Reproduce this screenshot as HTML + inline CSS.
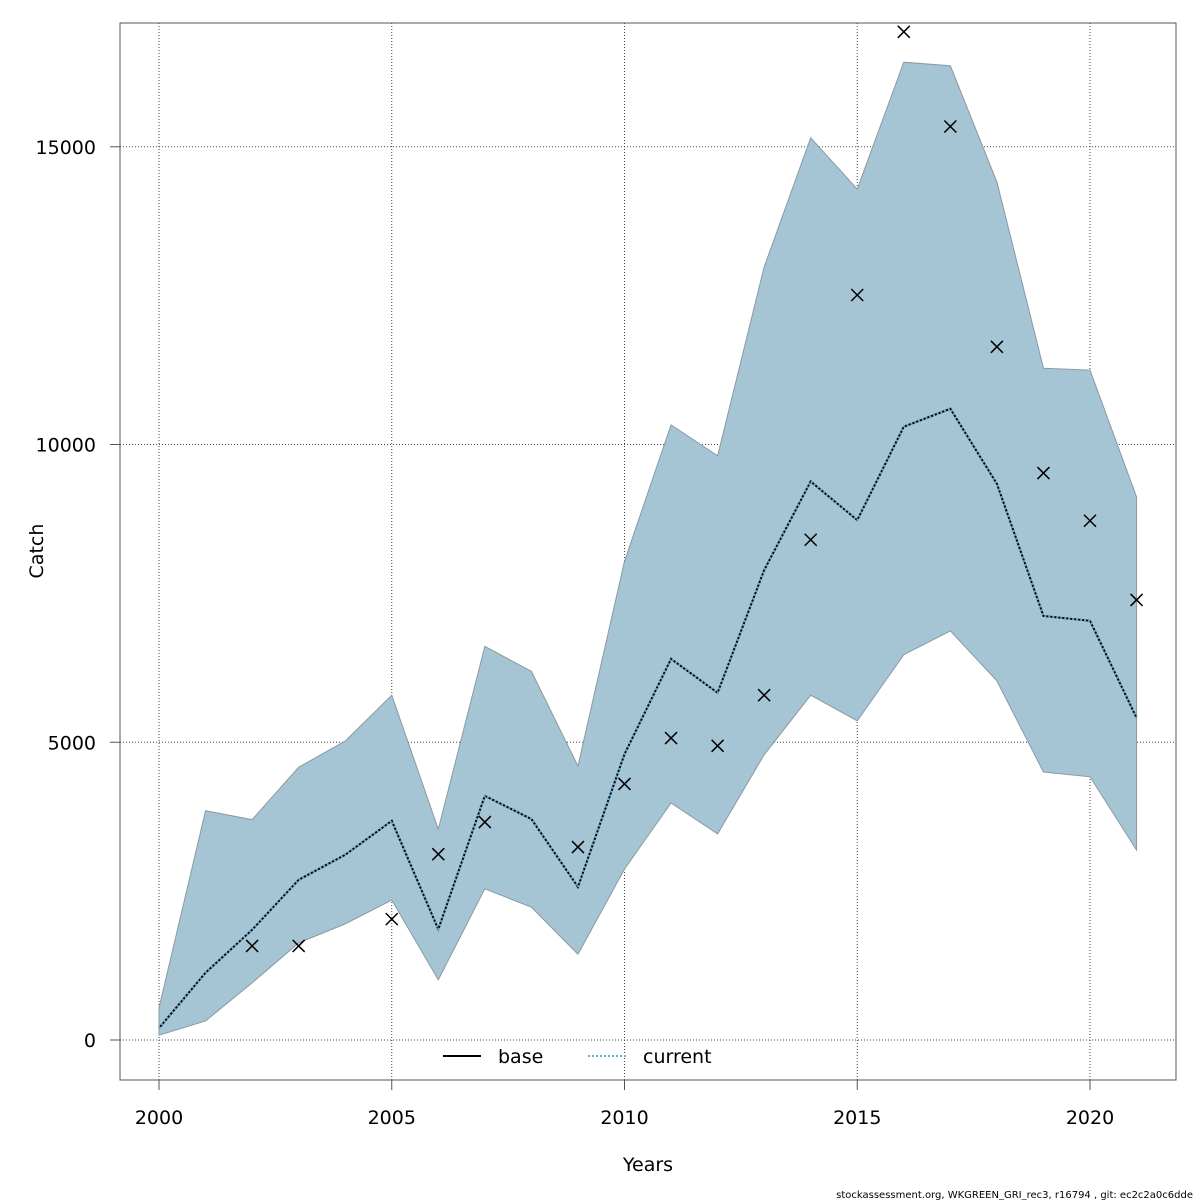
<!DOCTYPE html>
<html><head><meta charset="utf-8"><style>
html,body{margin:0;padding:0;background:#fff;}
svg{display:block;font-family:"DejaVu Sans","Liberation Sans",sans-serif;}
</style></head><body>
<svg id="chart" width="1200" height="1200" viewBox="0 0 1200 1200" xmlns="http://www.w3.org/2000/svg">
<rect width="1200" height="1200" fill="#fff"/>
<g id="grid"></g>
<g id="series"></g>
<rect x="120" y="23" width="1056" height="1057" fill="none" stroke="#555" stroke-width="1"/>
<g id="axes"></g>
<text x="43" y="551" font-size="19" text-anchor="middle" transform="rotate(-90 43 551)">Catch</text>
<text x="648" y="1171" font-size="19" text-anchor="middle">Years</text>
<text x="1193" y="1198" font-size="10" text-anchor="end">stockassessment.org, WKGREEN_GRI_rec3, r16794 , git: ec2c2a0c6dde</text>
<g>
<line x1="443" y1="1056" x2="481" y2="1056" stroke="#000" stroke-width="2"/>
<text x="498" y="1063" font-size="19">base</text>
<line x1="588" y1="1056" x2="626" y2="1056" stroke="#6aaed6" stroke-width="2" stroke-dasharray="2,2"/>
<text x="643" y="1063" font-size="19">current</text>
</g>
</svg>
<script>
const years = [2000,2001,2002,2003,2004,2005,2006,2007,2008,2009,2010,2011,2012,2013,2014,2015,2016,2017,2018,2019,2020,2021];
const upper = [540,3850,3700,4580,5020,5790,3540,6610,6190,4600,8040,10330,9810,12980,15150,14290,16420,16360,14410,11280,11250,9120];
const lower = [80,320,960,1630,1950,2350,1010,2540,2230,1440,2870,3980,3460,4790,5790,5360,6470,6870,6030,4500,4420,3190];
const estimate = [200,1130,1850,2690,3110,3680,1860,4100,3710,2570,4800,6400,5830,7890,9380,8730,10300,10600,9340,7120,7040,5410];
const obsYears = [2002,2003,2005,2006,2007,2009,2010,2011,2012,2013,2014,2015,2016,2017,2018,2019,2020,2021];
const obsValues = [1580,1580,2030,3120,3660,3240,4300,5070,4940,5790,8400,12510,16930,15340,11640,9520,8720,7390];
const xTicks = [2000,2005,2010,2015,2020];
const yTicks = [0,5000,10000,15000];

const NS="http://www.w3.org/2000/svg";
function X(y){return 159+(y-2000)*46.55;}
function Y(v){return 1040-v*0.05955;}
function mk(tag,attrs,parent){const e=document.createElementNS(NS,tag);for(const k in attrs)e.setAttribute(k,attrs[k]);parent.appendChild(e);return e;}
const grid=document.getElementById('grid'),series=document.getElementById('series'),axes=document.getElementById('axes');

xTicks.forEach(t=>{
  const l=mk('line',{x1:X(t),x2:X(t),y1:23,y2:1080,stroke:'#444','stroke-width':1,'stroke-dasharray':'1,2'},grid);
  
  
  const tk=mk('line',{x1:X(t),x2:X(t),y1:1080,y2:1090,stroke:'#555'},axes);
  
  
  const tx=mk('text',{x:X(t),y:1124,'font-size':19,'text-anchor':'middle'},axes);
  tx.textContent=t;
  
  
});
yTicks.forEach(t=>{
  const l=mk('line',{x1:120,x2:1176,y1:Y(t),y2:Y(t),stroke:'#444','stroke-width':1,'stroke-dasharray':'1,2'},grid);
  
  
  const tk=mk('line',{x1:110,x2:120,y1:Y(t),y2:Y(t),stroke:'#555'},axes);
  
  
  const tx=mk('text',{x:96,y:Y(t)+7,'font-size':19,'text-anchor':'end'},axes);
  tx.textContent=t;
  
  
});

let pts=years.map((y,i)=>X(y)+','+Y(upper[i]));
for(let i=years.length-1;i>=0;i--)pts.push(X(years[i])+','+Y(lower[i]));
const band=mk('polygon',{points:pts.join(' '),fill:'#a5c4d4',stroke:'#8a9aa3','stroke-width':1},series);



const lp=years.map((y,i)=>X(y)+','+Y(estimate[i])).join(' ');
const base=mk('polyline',{points:lp,fill:'none',stroke:'#000','stroke-width':2},series);


const cur=mk('polyline',{points:lp,fill:'none',stroke:'#6aaed6','stroke-width':2,'stroke-dasharray':'2,2'},series);



obsYears.forEach((y,i)=>{
  const cx=X(y),cy=Y(obsValues[i]),s=6;
  const g=mk('path',{d:`M${cx-s},${cy-s}L${cx+s},${cy+s}M${cx-s},${cy+s}L${cx+s},${cy-s}`,stroke:'#000','stroke-width':1.5,fill:'none'},series);
  
  
});
</script>
</body></html>
